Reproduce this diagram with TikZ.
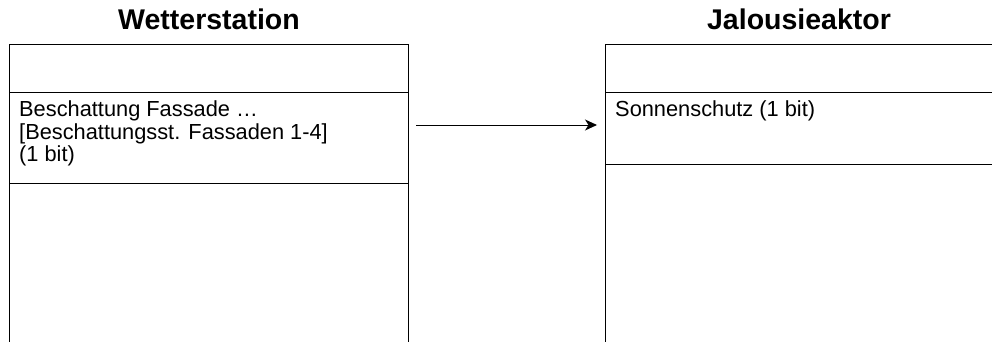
\documentclass[tikz,border=0pt]{standalone}
\usepackage{fontspec}
\setmainfont{Liberation Sans}
\usetikzlibrary{arrows.meta,calc}
\begin{document}
\begin{tikzpicture}[x=1pt,y=-1pt,
  comp/.style={draw,line width=1pt,inner sep=0pt,outer sep=0pt,anchor=north west},
  wsbox/.style={comp,minimum width=399pt},
  jabox/.style={comp,minimum width=398pt},
  title/.style={font=\fontsize{28.5}{32}\selectfont\bfseries,inner sep=0pt,anchor=base},
  body/.style={font=\fontsize{21.8}{22.6}\selectfont,inner sep=0pt,anchor=north west,align=left},
  conn/.style={-{Stealth[length=12pt,width=11pt,inset=3.5pt]},line width=1pt}]
\useasboundingbox (0,0) rectangle (992,342);
\clip (0,0) rectangle (992,342);
% Wetterstation
\node[wsbox,minimum height=48pt] (ws1) at (9,45) {};
\node[wsbox,minimum height=90pt] (ws2) at (ws1.south west) {};
\node[wsbox,minimum height=180pt] (ws3) at (ws2.south west) {};
% Jalousieaktor
\node[jabox,minimum height=48pt] (ja1) at (605,45) {};
\node[jabox,minimum height=71pt] (ja2) at (ja1.south west) {};
\node[jabox,minimum height=180pt] (ja3) at (ja2.south west) {};
% titles
\node[title] (tws) at (209,30) {Wetterstation};
\node[title] (tja) at (799,30) {Jalousieaktor};
% texts
\node[body] (t1) at (19,100.5) {Beschattung Fassade …\\ {[}Beschattungsst. Fassaden 1-4{]}\\ (1 bit)};
\node[body] (t2) at (615,100.5) {Sonnenschutz (1 bit)};
% connector
\coordinate (a1) at ($(ws2.north east)+(8,32)$);
\coordinate (a2) at ($(ja2.north west)+(-8,32)$);
\draw[conn] (a1) -- (a2);
\end{tikzpicture}
\end{document}
